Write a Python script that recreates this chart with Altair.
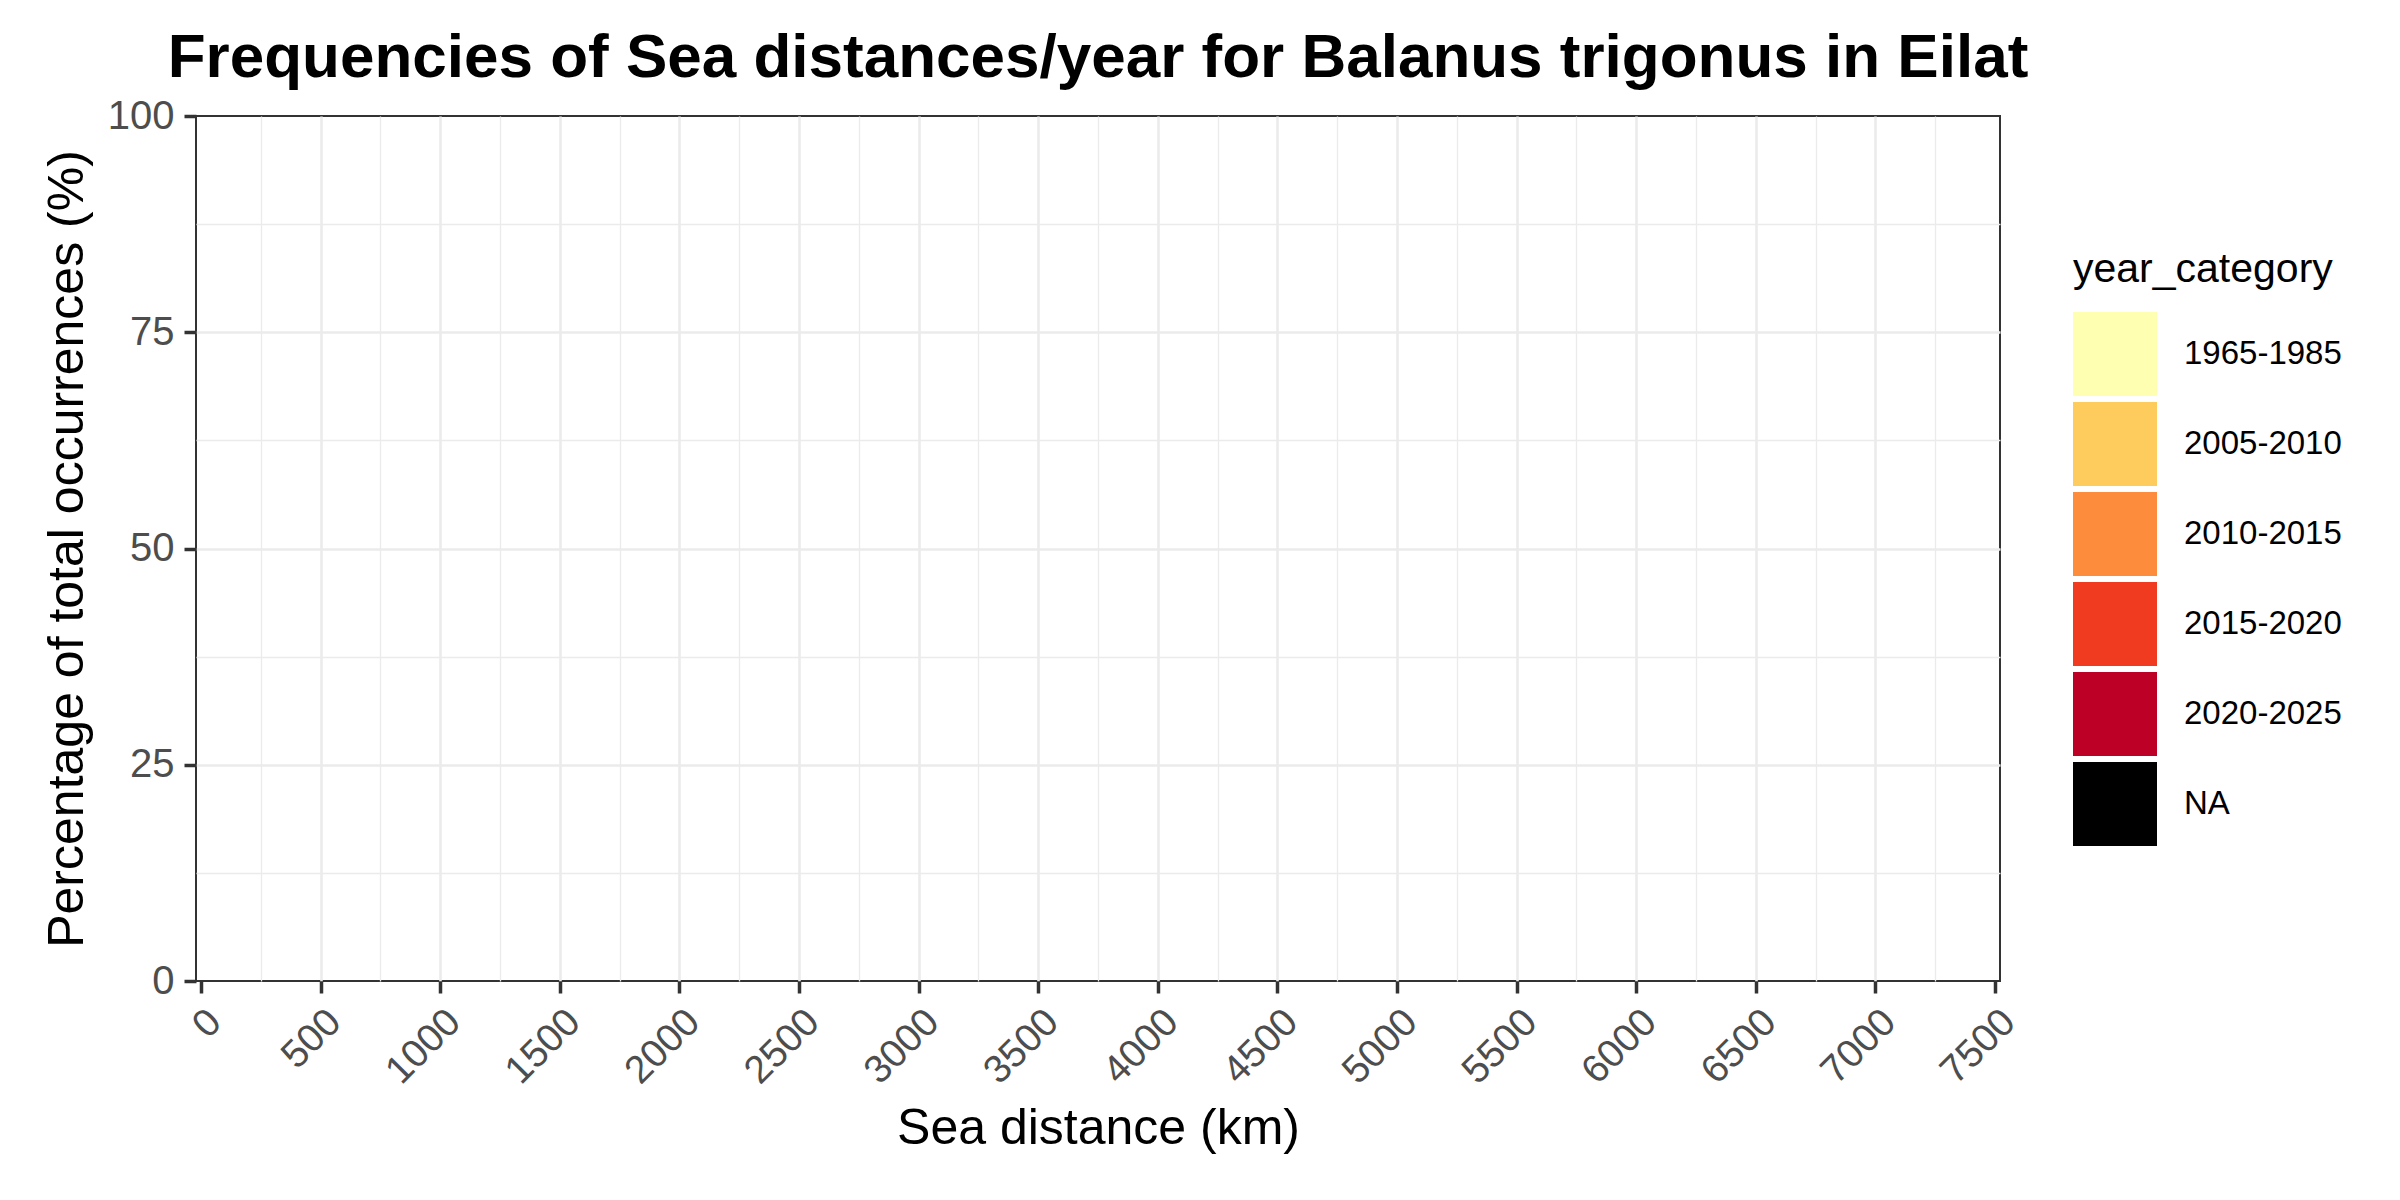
import altair as alt
import pandas as pd

# Data: the reference panel is empty (no occurrences plotted)
sea_distance_km = []
percentage = []
year_category = []

# Legend categories and colours
categories = ["1965-1985", "2005-2010", "2010-2015", "2015-2020", "2020-2025", "NA"]
colors = ["#FFFFB2", "#FECC5C", "#FD8D3C", "#F03B20", "#BD0026", "#000000"]

# Axis tick values (major + minor)
x_ticks = [i * 250 for i in range(31)]
y_ticks = [i * 12.5 for i in range(9)]

df = pd.DataFrame({
    "sea_distance": pd.Series(sea_distance_km, dtype=float),
    "percentage": pd.Series(percentage, dtype=float),
    "year_category": pd.Series(year_category, dtype=str),
})

W, H = 1804, 865
LEFT, TOP = 196, 116
FONT = "Liberation Sans"

chart = alt.Chart(df).mark_bar().encode(
    x=alt.X(
        "sea_distance:Q",
        scale=alt.Scale(domain=[0, 7500], nice=False, zero=False),
        axis=alt.Axis(
            title="Sea distance (km)",
            values=x_ticks,
            labelExpr="datum.value % 500 === 0 ? datum.label : ''",
            format="d",
            labelAngle=-45,
            labelAlign="right",
            labelBaseline="top",
            labelPadding=9,
            labelFontSize=39,
            labelColor="#4D4D4D",
            labelFont=FONT,
            labelOverlap=False,
            labelFlush=False,
            tickSize=12,
            tickWidth=3.5,
            tickColor="#333333",
            tickOpacity={"condition": {"test": "datum.value % 500 === 0", "value": 1}, "value": 0},
            grid=True,
            gridColor="#EBEBEB",
            gridWidth={"condition": {"test": "datum.value % 500 === 0", "value": 2.6}, "value": 1.3},
            gridOpacity={"condition": {"test": "datum.value === 0 || datum.value === 7500", "value": 0}, "value": 1},
            domain=False,
            titleFont=FONT,
            titleFontSize=50,
            titleFontWeight="normal",
            titleColor="#000000",
            titleX=W / 2,
            titleY=1143 - 981,
            titleBaseline="alphabetic",
            titleAlign="center",
        ),
    ),
    y=alt.Y(
        "percentage:Q",
        scale=alt.Scale(domain=[0, 100], nice=False),
        axis=alt.Axis(
            title="Percentage of total occurrences (%)",
            values=y_ticks,
            labelExpr="datum.value % 25 === 0 ? datum.label : ''",
            labelPadding=10,
            labelFontSize=40,
            labelColor="#4D4D4D",
            labelFont=FONT,
            labelOverlap=False,
            labelFlush=False,
            tickSize=12,
            tickWidth=3.5,
            tickColor="#333333",
            tickOpacity={"condition": {"test": "datum.value % 25 === 0", "value": 1}, "value": 0},
            grid=True,
            gridColor="#EBEBEB",
            gridWidth={"condition": {"test": "datum.value % 25 === 0", "value": 2.6}, "value": 1.3},
            gridOpacity={"condition": {"test": "datum.value === 0 || datum.value === 100", "value": 0}, "value": 1},
            domain=False,
            titleFont=FONT,
            titleFontSize=50,
            titleFontWeight="normal",
            titleColor="#000000",
            titleAngle=-90,
            titleX=82 - LEFT,
            titleY=H / 2,
            titleBaseline="alphabetic",
            titleAlign="center",
        ),
    ),
    color=alt.Color(
        "year_category:N",
        scale=alt.Scale(domain=categories, range=colors),
        legend=alt.Legend(
            title="year_category",
            orient="none",
            legendX=2073 - LEFT,
            legendY=250 - TOP,
            padding=0,
            titleFont=FONT,
            titleFontSize=41,
            titleFontWeight="normal",
            titleColor="#000000",
            titleBaseline="top",
            titlePadding=21,
            titleLimit=1000,
            labelFont=FONT,
            labelFontSize=33,
            labelColor="#000000",
            labelOffset=27,
            labelLimit=1000,
            symbolType="square",
            symbolSize=7056,
            symbolStrokeWidth=0,
            symbolOpacity=1,
            rowPadding=6,
            values=categories,
        ),
    ),
).properties(
    width=W,
    height=H,
    background="white",
    title=alt.TitleParams(
        text="Frequencies of Sea distances/year for Balanus trigonus in Eilat",
        font=FONT,
        fontSize=62,
        fontWeight="bold",
        color="#000000",
        anchor="middle",
        baseline="alphabetic",
        offset=38,
        dy=81,
    ),
    autosize=alt.AutoSizeParams(type="none"),
    padding={"left": LEFT - 8, "top": TOP - 8, "right": 390, "bottom": 195},
).configure_view(
    stroke="#333333",
    strokeWidth=2,
    fill="white",
)

chart.save("out.html", embed_options={"renderer": "svg", "actions": False})
